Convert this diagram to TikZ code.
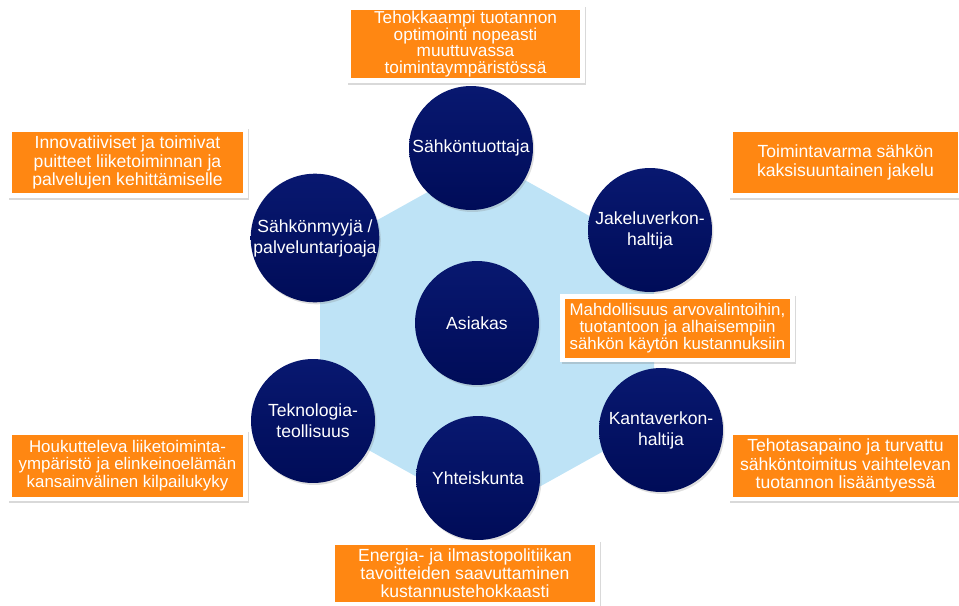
\documentclass[tikz,border=0pt]{standalone}
\usepackage{fontspec}
\setmainfont{Liberation Sans}
\usetikzlibrary{shadows}
\definecolor{navytop}{RGB}{8,24,112}
\definecolor{navybot}{RGB}{0,12,88}
\definecolor{hexblue}{RGB}{190,227,246}
\definecolor{boxorange}{RGB}{255,135,18}
\tikzset{
  actor/.style={circle, minimum size=2.48cm, inner sep=0pt, top color=navytop, bottom color=navybot,
    text=white, align=center, font=\fontsize{10}{12}\selectfont,
    drop shadow={shadow xshift=0.03cm, shadow yshift=-0.04cm, opacity=0.25}},
  goal/.style={rectangle, fill=white, inner sep=0pt, text=white, align=center,
    font=\fontsize{10}{10.3}\selectfont,
    drop shadow={shadow xshift=0.03cm, shadow yshift=-0.04cm, opacity=0.3},
    path picture={\fill[boxorange] ([shift={(0.1cm,0.09cm)}]path picture bounding box.south west)
      rectangle ([shift={(-0.1cm,-0.09cm)}]path picture bounding box.north east);}}
}
\begin{document}
\begin{tikzpicture}[x=0.02cm, y=-0.02cm]
\useasboundingbox (0,0) rectangle (959,605);
\fill[hexblue] (487,159) -- (654,252) -- (654,423) -- (487,516) -- (320,423) -- (320,252) -- cycle;

\node[actor] (tuottaja) at (471,148) {Sähköntuottaja};
\node[actor] (jakelu) at (650,230) {Jakeluverkon-\\haltija};
\node[actor] (myyja) at (315,238) {Sähkönmyyjä /\\palveluntarjoaja};
\node[actor] (asiakas) at (477,323) {Asiakas};
\node[actor] (teknologia) at (313,421) {Teknologia-\\teollisuus};
\node[actor] (kanta) at (661,430) {Kantaverkon-\\haltija};
\node[actor] (yhteiskunta) at (478,478) {Yhteiskunta};

\node[goal, minimum width=4.78cm, minimum height=1.56cm, font=\fontsize{9.8}{9.6}\selectfont] (tavoite1) at (465.5,44)
  {Tehokkaampi tuotannon\\optimointi nopeasti\\muuttuvassa\\toimintaympäristössä};
\node[goal, minimum width=4.82cm, minimum height=1.42cm] (tavoite2) at (127.5,162.5)
  {Innovatiiviset ja toimivat\\puitteet liiketoiminnan ja\\palvelujen kehittämiselle};
\node[goal, minimum width=4.7cm, minimum height=1.42cm] (tavoite3) at (845.5,162.5)
  {Toimintavarma sähkön\\kaksisuuntainen jakelu};
\node[goal, minimum width=4.7cm, minimum height=1.36cm, font=\fontsize{9.6}{9.6}\selectfont] (tavoite4) at (677.5,328)
  {Mahdollisuus arvovalintoihin,\\tuotantoon ja alhaisempiin\\sähkön käytön kustannuksiin};
\node[goal, minimum width=4.82cm, minimum height=1.42cm, font=\fontsize{9.6}{10}\selectfont] (tavoite5) at (127.5,465.5)
  {Houkutteleva liiketoiminta-\\ympäristö ja elinkeinoelämän\\kansainvälinen kilpailukyky};
\node[goal, minimum width=4.7cm, minimum height=1.42cm] (tavoite6) at (845.5,465.5)
  {Tehotasapaino ja turvattu\\sähköntoimitus vaihtelevan\\tuotannon lisääntyessä};
\node[goal, minimum width=5.4cm, minimum height=1.32cm] (tavoite7) at (465,573)
  {Energia- ja ilmastopolitiikan\\tavoitteiden saavuttaminen\\kustannustehokkaasti};
\end{tikzpicture}
\end{document}
